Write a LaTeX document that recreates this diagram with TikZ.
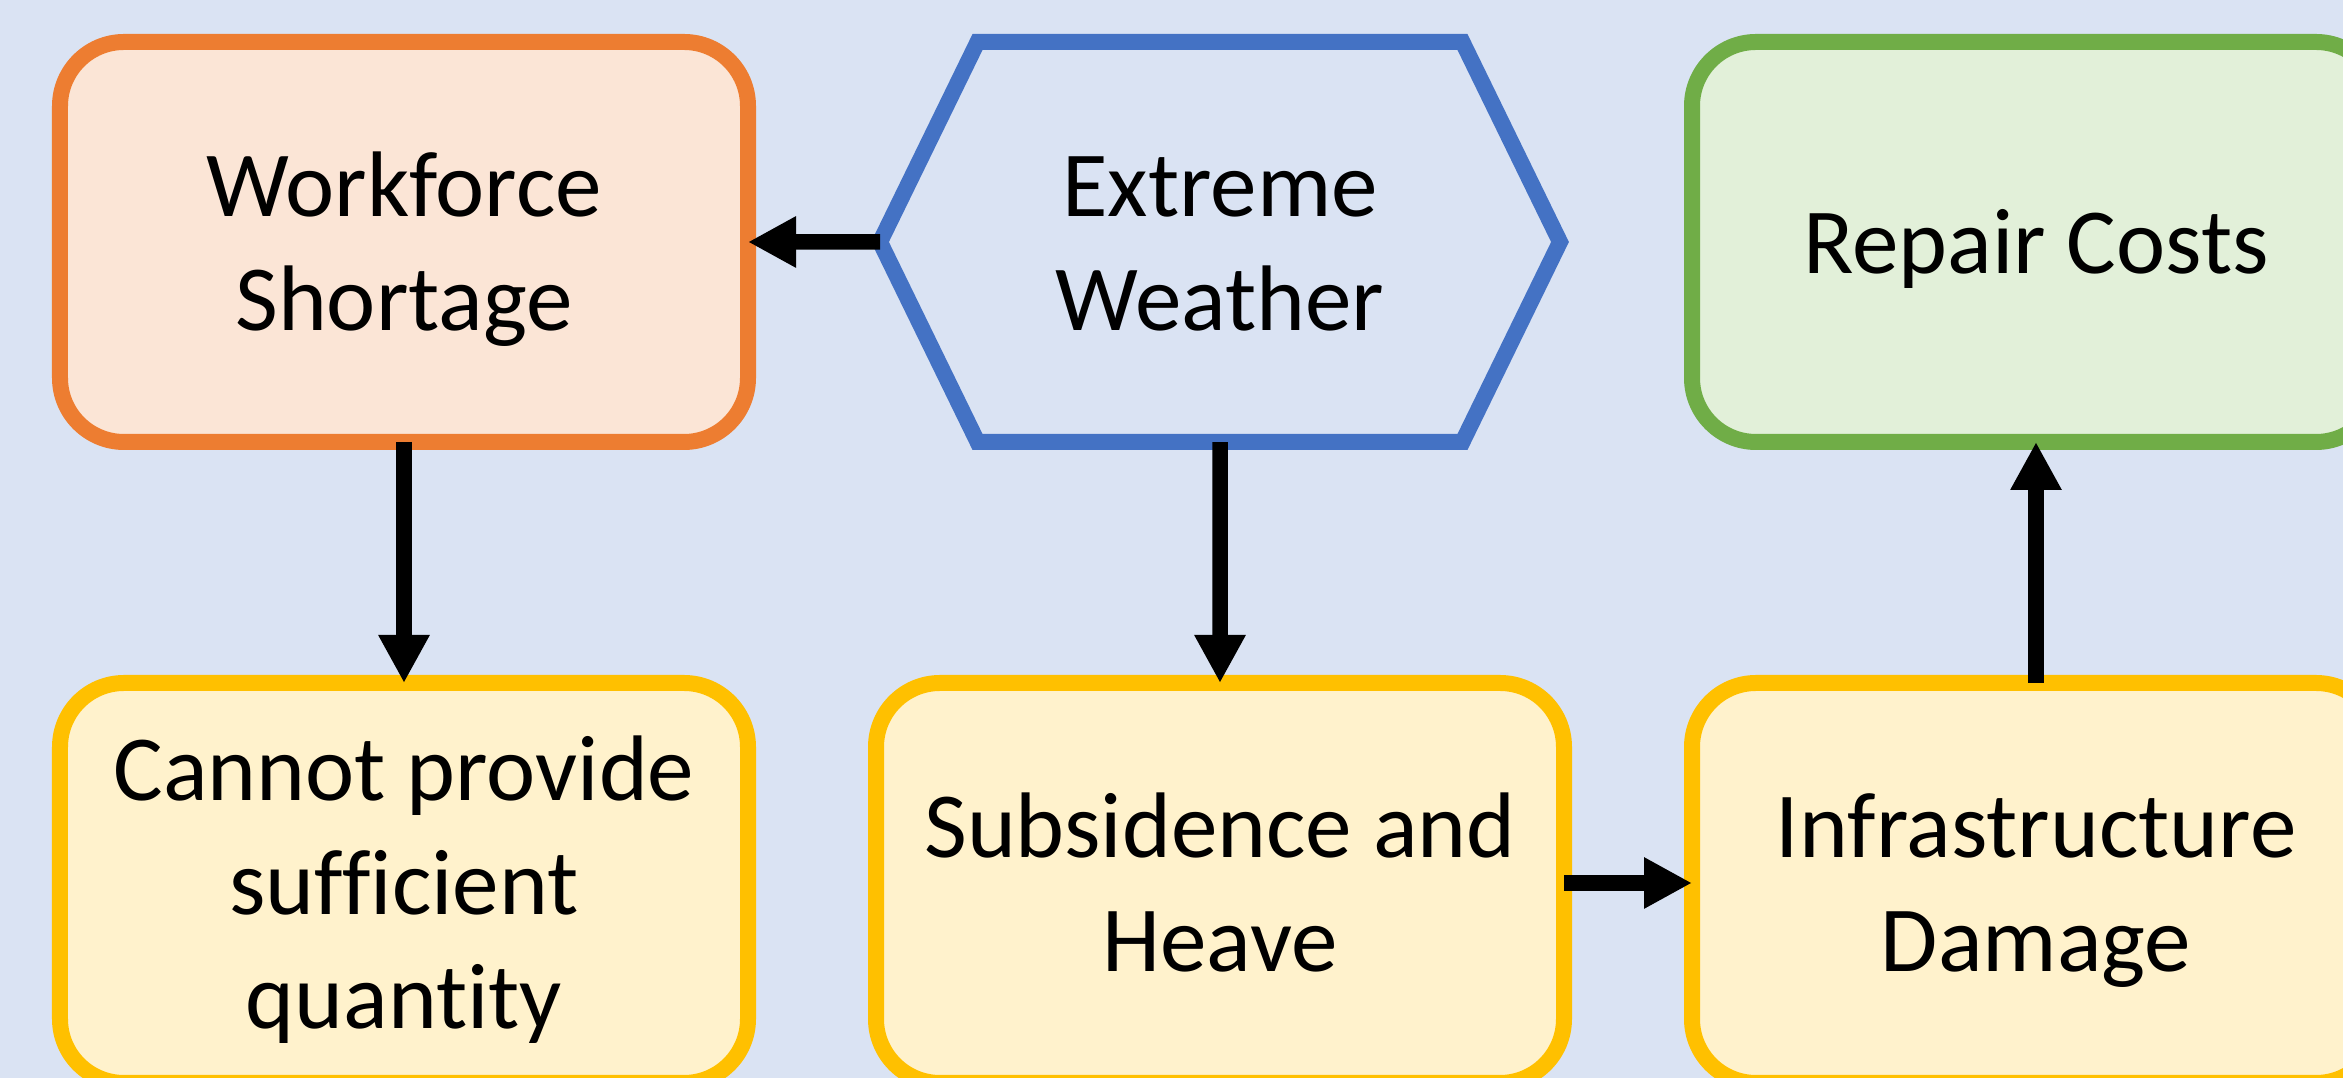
\documentclass[tikz,border=0pt]{standalone}
\usepackage{fontspec}
\setmainfont{Carlito}[Ligatures={NoCommon}]
\usepackage{tikz}
\usetikzlibrary{shapes,shapes.symbols,arrows.meta,positioning}
\definecolor{slideblue}{RGB}{218, 227, 243}
\definecolor{accentblue}{RGB}{68, 114, 196}
\definecolor{accentorange}{RGB}{237, 125, 49}
\definecolor{paleorange}{RGB}{251, 229, 214}
\definecolor{accentgreen}{RGB}{112, 173, 71}
\definecolor{palegreen}{RGB}{226, 240, 217}
\definecolor{accentgold}{RGB}{255, 192, 0}
\definecolor{palegold}{RGB}{255, 242, 204}
\newcommand{\lnstrut}{\rule[-0.269em]{0pt}{1.221em}}
\tikzset{
	every edge/.style={draw, -{Triangle[length=4.8mm, width=4.8mm]}, line width=1.55mm},
	label/.style ={inner sep=0pt, outer sep=0pt, line width=1.6mm, align=center, font=\fontsize{26.5}{32.4}\selectfont},
	box/.style ={label, rectangle, rounded corners=6.4mm, draw, minimum width=6.88cm, minimum height=4cm},
	cause/.style={box, draw=accentorange, fill=paleorange},
	effect/.style={box, draw=accentgold, fill=palegold},
	cost/.style={box, draw=accentgreen, fill=palegreen},
	hazard/.style={label, signal, signal to=east and west, signal pointer angle=128, draw=accentblue, fill=slideblue, minimum width=6.8cm, minimum height=4cm}
}

\begin{document}
\begin{tikzpicture}
    \clip (0,0) rectangle (23.43,-10.78);
    \fill[slideblue] (0,0) rectangle (23.43,-10.78);

    \node[cause] (work) at (4.04,-2.42) {\lnstrut Workforce\\\lnstrut Shortage};
    \node[hazard] (weather) at (12.2,-2.42) {\lnstrut Extreme\\\lnstrut Weather};
    \node[cost] (repair) at (20.36,-2.42) {\lnstrut Repair Costs};

    \node[effect] (supply) at (4.04,-8.83) {\lnstrut Cannot provide\\\lnstrut sufficient\\\lnstrut quantity};
    \node[effect] (ground) at (12.2,-8.83) {\lnstrut Subsidence and\\\lnstrut Heave};
    \node[effect] (damage) at (20.36,-8.83) {\lnstrut Infrastructure\\\lnstrut Damage};

    \path (weather) edge (work);
    \path (work) edge (supply);
    \path (weather) edge (ground);
    \path (ground) edge (damage);
    \path (damage) edge (repair);
\end{tikzpicture}
\end{document}
